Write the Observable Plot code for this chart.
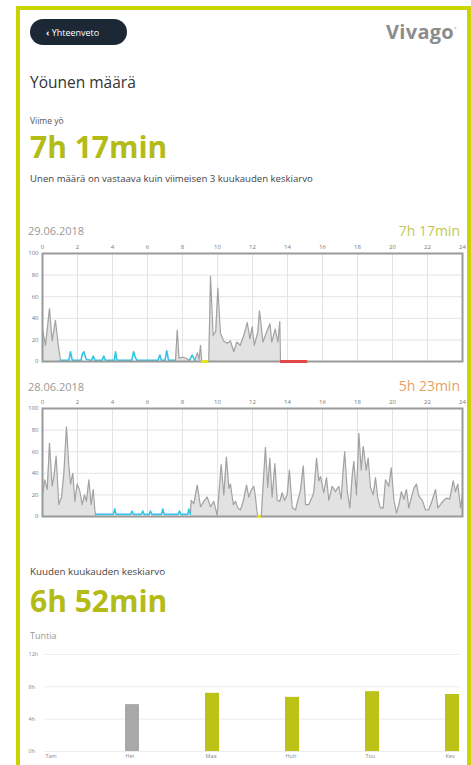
<!DOCTYPE html>
<html>
<head>
<meta charset="utf-8">
<script src="https://cdn.jsdelivr.net/npm/d3@7"></script>
<script src="https://cdn.jsdelivr.net/npm/@observablehq/plot@0.6"></script>
<style>
  html, body { margin: 0; padding: 0; background: #fff; }
  body { width: 471px; height: 765px; overflow: hidden; position: relative; font-family: "Open Sans", Lato, sans-serif; }
  .abs { position: absolute; line-height: 1; white-space: nowrap; }
  #frame { position: absolute; left: 16px; top: 6px; width: 455px; height: 800px; border: 4px solid #cad400; box-sizing: border-box; }
  #back { position: absolute; left: 30px; top: 19px; width: 97px; height: 26px; border-radius: 13px; background: #1d2836; }
  .chart { position: absolute; left: 0; }
</style>
</head>
<body>
<div id="frame"></div>
<div id="back"></div>
<div class="abs" style="left:46px;top:27.5px;font-size:9px;color:#fff;"><b>&#8249;</b> Yhteenveto</div>
<div class="abs" style="left:386px;top:22px;font-size:20px;font-weight:700;color:#8c8c8c;letter-spacing:0.3px;">Vivago<sup style="font-size:6px;font-weight:400;">°</sup></div>
<div class="abs" style="left:30px;top:74.5px;font-size:15.5px;color:#333;">Yöunen määrä</div>
<div class="abs" style="left:30px;top:116.5px;font-size:8.5px;color:#555;">Viime yö</div>
<div class="abs" id="lastNight" style="left:30px;top:131.5px;font-size:30px;font-weight:700;color:#b3bb17;"></div>
<div class="abs" style="left:30px;top:173.5px;font-size:9.6px;color:#444;">Unen määrä on vastaava kuin viimeisen 3 kuukauden keskiarvo</div>

<div class="abs" id="date1" style="left:28px;top:225.2px;font-size:11px;color:#999;"></div>
<div class="abs" id="total1" style="right:11px;top:223.6px;font-size:14px;color:#c3c852;"></div>
<div class="chart" id="chart1" style="top:238px;"></div>

<div class="abs" id="date2" style="left:28px;top:381.2px;font-size:11px;color:#999;"></div>
<div class="abs" id="total2" style="right:11px;top:378.6px;font-size:14px;color:#e9a262;"></div>
<div class="chart" id="chart2" style="top:393px;"></div>

<div class="abs" style="left:30px;top:567.4px;font-size:9.8px;color:#444;">Kuuden kuukauden keskiarvo</div>
<div class="abs" id="sixMonth" style="left:30px;top:585.5px;font-size:30px;font-weight:700;color:#b3bb17;"></div>
<div class="abs" style="left:30px;top:631px;font-size:9px;color:#999;">Tuntia</div>
<div class="chart" id="chart3" style="top:640px;"></div>

<script>
// ---------- values ----------
const lastNightTotal = "7h 17min";
const sixMonthAverage = "6h 52min";

// Night 1 (29.06.2018) – activity [hour, value]
const night1Date = "29.06.2018";
const night1Total = "7h 17min";
const n1ActiveA = [[0,30],[0.17,15],[0.4,49],[0.55,19],[0.74,38],[0.9,15],[1.03,1]];
const n1SleepA = [[1.03,1],[1.5,1],[1.6,9],[1.7,1],[2.2,1],[2.28,7],[2.36,9],[2.5,2],[2.8,1],[2.9,5],[3.0,1],[3.4,1],[3.5,5],[3.6,1],[4.1,1],[4.17,9],[4.25,1],[5.1,1],[5.2,9],[5.3,4],[5.4,1],[6.6,1],[6.7,6],[6.8,1],[7.0,1],[7.1,10],[7.2,1],[7.6,1]];
const n1ActiveB = [[7.6,1],[7.7,29],[7.8,3],[8.0,4],[8.2,3],[8.4,1]];
const n1SleepB = [[8.4,1],[8.55,6],[8.7,1]];
const n1ActiveC = [[8.7,1],[8.85,8],[8.95,2],[9.03,15],[9.1,0]];
const n1ActiveD = [[9.5,0],[9.6,79],[9.75,24],[9.9,28],[10.02,68],[10.17,26],[10.36,19],[10.55,17],[10.74,19],[10.93,9],[11.1,18],[11.3,15],[11.5,24],[11.7,36],[11.85,21],[11.98,32],[12.1,15],[12.3,27],[12.4,47],[12.6,18],[12.8,27],[13.0,35],[13.1,18],[13.3,30],[13.45,18],[13.56,37],[13.6,0]];
const n1Awake = [[9.1,9.5]];     // yellow
const n1NoData = [[13.6,15.15]]; // red

// Night 2 (28.06.2018)
const night2Date = "28.06.2018";
const night2Total = "5h 23min";
const n2ActiveA = [[0,20],[0.13,34],[0.27,25],[0.4,68],[0.55,28],[0.65,37],[0.78,56],[0.93,11],[1.09,18],[1.22,40],[1.37,83],[1.5,48],[1.6,30],[1.73,40],[1.85,14],[1.98,30],[2.11,25],[2.27,11],[2.4,20],[2.51,14],[2.65,34],[2.78,11],[2.9,25],[2.99,6],[3.05,1]];
const n2SleepA = [[3.05,2],[4.05,2],[4.13,7],[4.2,2],[5.05,2],[5.12,5],[5.2,2],[5.65,2],[5.73,5],[5.8,2],[6.1,2],[6.17,5],[6.25,2],[6.8,2],[6.87,7],[6.95,2],[7.75,2],[7.83,5],[7.9,2],[8.3,2],[8.36,7],[8.45,2]];
const n2ActiveB = [[8.45,2],[8.5,15],[8.65,12],[8.84,29],[9.03,9],[9.22,14],[9.41,18],[9.6,9],[9.79,14],[9.98,1],[10.21,48],[10.36,20],[10.51,55],[10.65,26],[10.74,30],[10.9,11],[11.03,14],[11.16,8],[11.31,6],[11.47,14],[11.66,29],[11.79,18],[11.92,24],[12.08,28],[12.17,18],[12.23,8],[12.3,0]];
const n2ActiveC = [[12.5,0],[12.6,27],[12.74,64],[12.87,27],[12.99,54],[13.12,18],[13.28,49],[13.41,15],[13.56,14],[13.7,22],[13.83,15],[13.98,20],[14.11,43],[14.27,8],[14.46,6],[14.59,15],[14.74,24],[14.9,47],[15.03,11],[15.22,11],[15.41,18],[15.5,22],[15.66,54],[15.79,33],[15.89,37],[16.07,22],[16.23,36],[16.36,15],[16.55,28],[16.74,23],[16.93,28],[17.07,16],[17.18,43],[17.27,60],[17.41,24],[17.56,8],[17.7,38],[17.79,51],[17.94,20],[18.08,77],[18.21,43],[18.33,65],[18.5,43],[18.61,54],[18.74,27],[18.9,20],[19.03,36],[19.16,17],[19.31,8],[19.47,8],[19.6,34],[19.79,28],[19.93,45],[20.08,15],[20.23,3],[20.38,12],[20.51,23],[20.65,16],[20.8,25],[20.93,8],[21.07,17],[21.22,26],[21.37,30],[21.5,19],[21.7,15],[21.89,6],[22.07,6],[22.27,15],[22.46,25],[22.59,8],[22.74,11],[22.93,15],[23.09,17],[23.27,16],[23.47,33],[23.6,23],[23.73,30],[23.89,8],[24,20]];
const n2Awake = [[12.3,12.5]];
const n2NoData = [];

const hourTicks = [0,2,4,6,8,10,12,14,16,18,20,22,24];
const activityTicks = [0,20,40,60,80,100];

// Six-month bar chart
const months = ["Tam","Hel","Maa","Huh","Tou","Kes"];
const monthHours = [0, 5.8, 7.2, 6.7, 7.4, 7.05];
const monthComplete = [false, false, true, true, true, true];
const hourTickValues = [0,4,8,12];
const hourTickLabels = ["0h","4h","8h","12h"];

// ---------- build ----------
document.getElementById("lastNight").textContent = lastNightTotal;
document.getElementById("sixMonth").textContent = sixMonthAverage;
document.getElementById("date1").textContent = night1Date;
document.getElementById("total1").textContent = night1Total;
document.getElementById("date2").textContent = night2Date;
document.getElementById("total2").textContent = night2Total;

const FONT = "'Open Sans', Lato, sans-serif";

function toRows(segments) {
  const rows = [];
  segments.forEach((seg, i) => seg.forEach(([hour, value]) => rows.push({hour, value, seg: i})));
  return rows;
}

function nightChart(active, sleep, awake, nodata) {
  const act = toRows(active);
  const slp = toRows(sleep);
  const aw = awake.map(([a, b]) => ({a, b}));
  const nd = nodata.map(([a, b]) => ({a, b}));
  return Plot.plot({
    width: 471, height: 127,
    marginLeft: 42, marginRight: 9, marginTop: 15, marginBottom: 4,
    style: {fontFamily: FONT, background: "transparent"},
    x: {domain: [0, 24], label: null},
    y: {domain: [0, 100], label: null},
    marks: [
      Plot.gridX(hourTicks, {stroke: "#e4e4e4", strokeOpacity: 1}),
      Plot.gridY(activityTicks, {stroke: "#e4e4e4", strokeOpacity: 1}),
      Plot.areaY(act, {x: "hour", y: "value", z: "seg", fill: "#e2e2e2", curve: "linear"}),
      Plot.lineY(act, {x: "hour", y: "value", z: "seg", stroke: "#a2a2a2", strokeWidth: 1.2}),
      Plot.lineY(slp, {x: "hour", y: "value", z: "seg", stroke: "#33c4e6", strokeWidth: 1.6}),
      Plot.frame({stroke: "#9a9a9a", strokeWidth: 2}),
      Plot.ruleY(aw, {x1: "a", x2: "b", y: 0, stroke: "#e3e61a", strokeWidth: 3}),
      Plot.ruleY(nd, {x1: "a", x2: "b", y: 0, stroke: "#e04848", strokeWidth: 3}),
      Plot.axisX(hourTicks, {anchor: "top", tickSize: 0, tickPadding: 5, fontSize: 6, fill: "#777", label: null}),
      Plot.axisY(activityTicks, {anchor: "left", tickSize: 0, tickPadding: 4, fontSize: 6, fill: "#777", label: null})
    ]
  });
}

document.getElementById("chart1").append(
  nightChart([n1ActiveA, n1ActiveB, n1ActiveC, n1ActiveD], [n1SleepA, n1SleepB], n1Awake, n1NoData));
document.getElementById("chart2").append(
  nightChart([n2ActiveA, n2ActiveB, n2ActiveC], [n2SleepA], n2Awake, n2NoData));

const monthRows = months.map((m, i) => ({month: m, hours: monthHours[i], complete: monthComplete[i]}));
const yTickRows = hourTickValues.map((v, i) => ({v, label: hourTickLabels[i]}));

document.getElementById("chart3").append(Plot.plot({
  width: 471, height: 125,
  marginLeft: 45, marginRight: 12, marginTop: 14, marginBottom: 14,
  style: {fontFamily: FONT, background: "transparent"},
  x: {domain: months, paddingInner: 0.825, paddingOuter: 0, label: null, axis: null},
  y: {domain: [0, 12], label: null, axis: null},
  marks: [
    Plot.ruleY(hourTickValues, {stroke: "#ececec", strokeWidth: 1}),
    Plot.barY(monthRows.filter(d => d.hours > 0), {x: "month", y: "hours", fill: d => d.complete ? "#bcc318" : "#a9a9a9"}),
    Plot.text(yTickRows, {y: "v", text: "label", frameAnchor: "left", dx: -17, textAnchor: "start", fontSize: 5.5, fill: "#888"}),
    Plot.text(months, {x: d => d, text: d => d, frameAnchor: "bottom", dy: 6, dx: -7, textAnchor: "start", fontSize: 5.5, fill: "#888"})
  ]
}));
</script>
</body>
</html>
